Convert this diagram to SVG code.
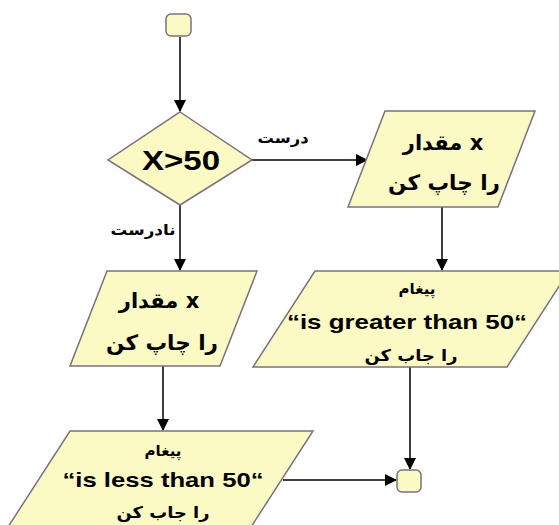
<svg xmlns="http://www.w3.org/2000/svg" width="559" height="525" viewBox="0 0 559 525">
<style>
.shape{fill:#FCFAC4;stroke:#7d6f7d;stroke-width:1.5}
.edge{stroke:#000;stroke-width:1.5;fill:none}
.lat{font-family:"Liberation Sans",Arial,sans-serif;font-weight:bold;fill:#000}
.ar{font-family:"DejaVu Sans",sans-serif;font-weight:bold;fill:#000}
</style>
<defs>
<marker id="arr" markerWidth="12" markerHeight="12" refX="11" refY="6" orient="auto" markerUnits="userSpaceOnUse">
<path d="M0,0 L12,6 L0,12 Z" fill="#000"/>
</marker>
</defs>
<g id="connectors">
<line class="edge" x1="180" y1="37" x2="180" y2="111" marker-end="url(#arr)"/>
<line class="edge" x1="252" y1="160" x2="367" y2="160" marker-end="url(#arr)"/>
<line class="edge" x1="180" y1="205" x2="180" y2="270" marker-end="url(#arr)"/>
<line class="edge" x1="442" y1="207" x2="442" y2="270" marker-end="url(#arr)"/>
<line class="edge" x1="163" y1="366" x2="163" y2="430" marker-end="url(#arr)"/>
<line class="edge" x1="410" y1="367" x2="410" y2="469" marker-end="url(#arr)"/>
<line class="edge" x1="283" y1="480" x2="396" y2="480" marker-end="url(#arr)"/>
<text class="ar" x="283" y="143" font-size="15" text-anchor="middle" textLength="51" lengthAdjust="spacingAndGlyphs">درست</text>
<text class="ar" x="143" y="235" font-size="15" text-anchor="middle" textLength="65" lengthAdjust="spacingAndGlyphs">نادرست</text>
</g>
<g id="start">
<rect class="shape" x="166" y="14" width="25" height="22" rx="5"/>
</g>
<g id="decision">
<polygon class="shape" points="180,112 252,160 180,205 108,160"/>
<text class="lat" x="181" y="170" font-size="28" text-anchor="middle" textLength="78" lengthAdjust="spacingAndGlyphs">X&gt;50</text>
</g>
<g id="print-x-right">
<polygon class="shape" points="385,111 535,111 498,207 348,207"/>
<text class="ar" x="443" y="150" font-size="21" text-anchor="middle" direction="ltr">مقدار x</text>
<text class="ar" x="444" y="190" font-size="21" text-anchor="middle" textLength="112" lengthAdjust="spacingAndGlyphs">را چاپ کن</text>
</g>
<g id="msg-greater">
<polygon class="shape" points="315,271 569,271 507,367 253,367"/>
<text class="ar" x="417" y="294" font-size="15" text-anchor="middle">پیغام</text>
<text class="lat" x="407" y="329" font-size="21" text-anchor="middle" textLength="240" lengthAdjust="spacingAndGlyphs">“is greater than 50“</text>
<text class="ar" x="411" y="361" font-size="16" text-anchor="middle" textLength="93" lengthAdjust="spacingAndGlyphs">را جاب کن</text>
</g>
<g id="print-x-left">
<polygon class="shape" points="107,271 257,271 220,366 70,366"/>
<text class="ar" x="159" y="308" font-size="21" text-anchor="middle" direction="ltr">مقدار x</text>
<text class="ar" x="162" y="350" font-size="21" text-anchor="middle" textLength="112" lengthAdjust="spacingAndGlyphs">را چاپ کن</text>
</g>
<g id="msg-less">
<polygon class="shape" points="70,431 313,431 251,527 8,527"/>
<text class="ar" x="163" y="456" font-size="15" text-anchor="middle">پیغام</text>
<text class="lat" x="163" y="487" font-size="21" text-anchor="middle" textLength="201" lengthAdjust="spacingAndGlyphs">“is less than 50“</text>
<text class="ar" x="163" y="518" font-size="16" text-anchor="middle" textLength="93" lengthAdjust="spacingAndGlyphs">را جاب کن</text>
</g>
<g id="end">
<rect class="shape" x="397" y="470" width="24" height="22" rx="5"/>
</g>
</svg>
